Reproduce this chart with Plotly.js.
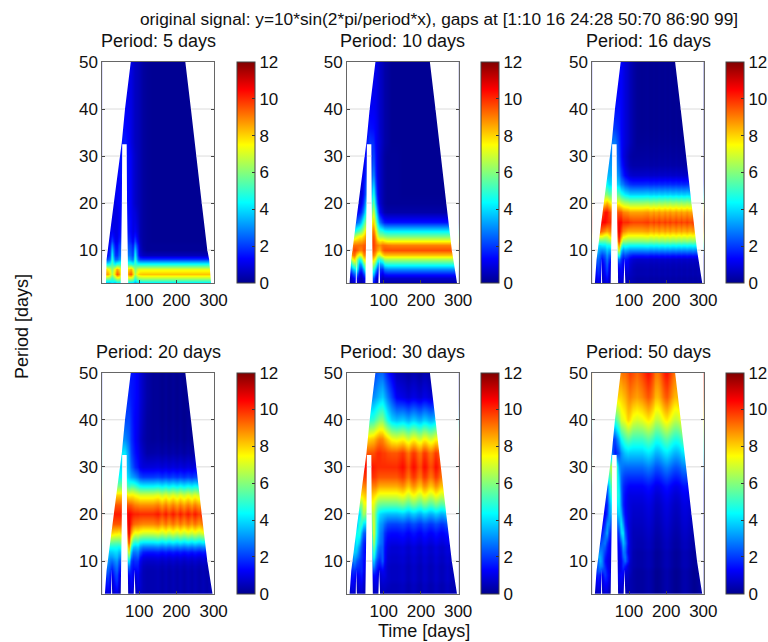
<!DOCTYPE html>
<html><head><meta charset="utf-8">
<script src="https://cdn.plot.ly/plotly-3.0.1.min.js"></script>
<style>html,body{margin:0;padding:0;background:#fff}</style>
</head><body><div id="chart" style="width:768px;height:642px"></div>
<script>
const _ = null;
// Period rows of every panel (days)
const periods = [3,4,5,6,7,8,9,10,11,12,13,14,16,18,20,22,24,26,28,30,33,36,40,45,50];
// Time columns: early table columns, then steady columns
const earlyTimes = [5,11,16,21,26,33,39,45,50,62,71,77,82,88,95,102,110,120,135];
const steadyTimes = [150,155,160,165,170,175,180,185,190,195,200,205,210,215,220,225,230,235,240,245,250,255,260,265,270,275,280,285,290,295,300];

const panelTitles = ['Period: 5 days','Period: 10 days','Period: 16 days','Period: 20 days','Period: 30 days','Period: 50 days'];
const superTitle = 'original signal: y=10*sin(2*pi/period*x), gaps at [1:10 16 24:28 50:70 86:90 99]';
const xTicks = [100,200,300];
const yTicks = [10,20,30,40,50];
const barTicks = [0,2,4,6,8,10,12];

// Rows are right-aligned on earlyTimes; shorter rows start inside the white wedge.
const early5 = [
[3.4,3.4,3.4,3.4,4.2,3.4,4,4,4,_,3.8,3.8,3.8,3.2,3.8,3.8,4,4,4],
[6.2,6.2,6.2,6,5,6.2,7,7,6.2,_,7,7,6.6,5,6.2,6.5,6.6,6.6,6.6],
[8.6,8.6,8.6,7.8,6.4,8,9.5,9,7.4,_,9,9.5,8.2,6.4,7.8,8.1,8.2,8.2,8.2],
[8,8,7.5,7.2,6,7.5,8.5,8,7.2,_,8,8.5,7.5,6,7,7.2,7.2,7.2,7.2],
[4.4,4.4,4.4,4.6,5.4,4.4,5,5,5,_,5,5,4.6,5.2,4.6,4.6,4.6,4.6,4.6],
[2,2,2.2,2.6,5,2.6,2.5,3,3.5,_,3.5,3,2.6,5,2.6,2,1.9,1.9,1.9],
[1,1,1.5,2,4.5,2,1.8,2.5,2.8,_,2.8,2.5,2,4.5,2,.9,.6,.5,.5],
[1.2,1.8,3.8,1.8,1.5,2.2,2.5,_,2.5,2.2,1.8,3.8,1.8,.7,.3,.1,.1],
[1,1.5,3,1.5,1.3,2,2.2,_,2.2,2,1.5,3,1.5,.6,.2,.1,.1],
[1.2,2.2,1.2,1.1,1.6,1.9,_,1.9,1.6,1.2,2.2,1.1,.5,.2,.1,.05],
[1,1.6,1.1,1,1.4,1.6,_,1.7,1.4,1.1,1.6,.9,.4,.2,.1,.05],
[1,1.2,1,1,1.3,1.5,_,1.5,1.3,1,1.2,.8,.4,.2,.1,.05],
[1,1,1,1.2,1.4,_,1.5,1.3,1,1,.7,.4,.2,.1,.05],
[1,1,1,1.2,1.4,_,1.4,1.2,1,.9,.6,.4,.2,.1,.05],
[1,1.2,1.3,1.4,_,1.4,1.2,.9,.7,.5,.4,.2,.1,.05],
[1.2,1.3,1.4,_,1.4,1.2,.9,.7,.5,.4,.2,.1,.05],
[1.2,1.3,1.4,_,1.4,1.2,.9,.7,.5,.4,.2,.1,.05],
[1.2,1.4,1.5,_,1.4,1.2,.9,.7,.5,.4,.2,.1,.05],
[1.4,1.5,_,1.4,1.2,.9,.7,.5,.4,.2,.1,.05],
[1.4,1.5,_,1.4,1.2,.9,.7,.5,.4,.2,.1,.05],
[1.5,1.6,1.3,1,.8,.6,.5,.4,.2,.1,.05],
[1.4,1.4,1.2,1,.8,.6,.5,.4,.2,.1,.05],
[1.3,1.1,1,.8,.6,.5,.4,.2,.1,.05],
[1.1,1.1,1,.8,.6,.5,.4,.2,.1,.05],
[1.1,1.1,1,.8,.6,.5,.4,.2,.1,.05]
];
const steady5 = [4,6.6,8.2,7.2,4.6,1.9,.5,.1,.1,.05,.05,.05,.05,.05,.05,.05,.05,.05,.05,.05,.05,.05,.05,.05,.05];
const ripple5 = [];

const early10 = [
[.3,.4,.6,.8,.8,.4,.4,.6,.8,_,1.5,.6,.4,.6,.3,.3,.3,.3,.3],
[.5,.6,1,1.5,1.5,.6,.5,1,1.5,_,2.5,1,.7,1,.5,.7,.7,.7,.7],
[1,1.2,2,2.5,3,1,1,2,3,_,3.8,2,1.2,1.5,1,1.5,1.6,1.6,1.6],
[2,2.5,3.5,4,5,2,2,3.5,5,_,5,3.5,2,2,1.8,2.8,3,3,3],
[3.5,4,5.5,6,6,3,3.5,5.5,6.5,_,6.5,5.2,3.5,3.2,3.5,4.6,4.8,4.8,4.8],
[6,7.5,8,6.5,4.5,5.5,7.5,8,_,8,7,5.2,4.8,5.5,6.4,6.5,6.5,6.5],
[8,9,9.2,8,7,7.5,8.8,9,_,9,8.3,7,6.8,7.8,8.2,8.2,8.2,8.2],
[9,9.5,9.8,9.5,9,9,9.6,9.6,_,9.6,9.2,8.6,8.3,9.3,9.6,9.6,9.6,9.6],
[9,9.2,9.2,9.2,9.2,9.4,9.5,_,9.8,9.3,9,8.8,9.2,9.2,9.1,9,9],
[8,8.3,8.3,8.5,8.5,8.8,9,_,9.8,9,8.2,7.8,8,7.7,7.5,7.5,7.5],
[6,6.5,7,7.5,7.5,8,8.5,_,9.6,8.5,7,6.3,6.2,6,5.8,5.8,5.8],
[4.5,5,5.5,6,6.8,7.8,_,9.2,7.8,6,5,4.8,4.4,4.3,4.3,4.3],
[2,2.5,3,3.8,5,6,_,8.2,6.2,4.2,2.8,2,1.6,1.5,1.5,1.5],
[1.2,1.5,2,3,4.5,_,7,4.8,2.8,1.3,.7,.4,.3,.3,.3],
[.8,1.2,2,3.5,_,5.8,3.6,1.8,.8,.4,.2,.1,.1,.1],
[.8,1.5,2.5,_,4.8,2.8,1.3,.7,.4,.2,.1,.1,.1],
[.8,1.4,2.2,_,3.8,2.2,1.1,.7,.4,.2,.1,.1,.1],
[1.2,1.8,_,3,1.8,1,.7,.4,.2,.1,.1,.1],
[1,1.6,_,2.5,1.6,1,.7,.4,.2,.1,.1,.1],
[1.4,_,2.2,1.5,1,.7,.4,.2,.1,.1,.1],
[1.4,2,1.8,1.3,1,.8,.5,.3,.2,.05,.05],
[1.2,1.5,1.4,1.2,1,.7,.5,.3,.2,.05,.05],
[1.2,1.2,1.1,.9,.7,.5,.3,.2,.05,.05],
[1.1,1.1,1.1,.9,.7,.5,.3,.2,.05,.05],
[1.1,1.1,1.1,.9,.7,.5,.3,.2,.05,.05]
];
const steady10 = [.3,.7,1.6,3,4.8,6.5,8.2,9.6,9,7.5,5.8,4.3,1.5,.3,.1,.05,.05,.05,.05,.05,.05,.05,.05,.05,.05];
const ripple10 = [];

const early16 = [
[.5,.8,1,.9,.5,.8,1,.6,.4,_,.5,.8,.6,.4,.5,.5,.4,.3,.3],
[.7,1,1.4,1.2,.6,1,1.4,.8,.5,_,.7,1,.8,.5,.6,.5,.4,.3,.3],
[1,1.3,1.7,1.5,.7,1.3,1.8,1,.6,_,.9,1.2,1,.7,.8,.6,.5,.4,.4],
[1.2,1.6,2,1.7,.9,1.5,2.2,1.2,.8,_,1.2,1.4,1.1,.9,1,.7,.5,.4,.4],
[1.9,2.3,1.9,1,1.7,2.5,1.5,1,_,1.8,1.6,1.2,1.2,1.2,.8,.6,.5,.5],
[2.2,2.6,2.2,1.4,2,2.8,2,1.6,_,3,2,1.4,1.6,1.4,1,.8,.7,.7],
[3,2.5,2,2.4,3.2,2.5,2.5,_,5,2.8,2,2.3,2,1.8,1.6,1.6,1.6],
[3.6,3.2,3,3.2,3.8,3.4,3.6,_,7.5,4,3,3.4,3.2,3,3,3,3],
[4,4,4.2,4.2,4.6,4.5,5,_,9,6,4.5,4.8,4.6,4.5,4.5,4.5,4.5],
[5.5,5.5,5.5,5.8,6,6.5,_,10,7.8,6.2,6.2,6,6,6,6,6],
[7.5,7.5,7,7,7.5,8,_,10.5,9,7.8,7.6,7.3,7.3,7.3,7.3,7.3],
[9.5,9.2,8.8,8.5,8.8,9,_,10.8,9.8,9,8.8,8.5,8.5,8.5,8.5,8.5],
[10.5,10.5,10.2,10,10,_,10.5,10.5,10,10,10,9.8,9.7,9.7,9.7],
[9.5,10.3,10.3,9.8,9.5,_,9.5,9.5,9,8.9,8.8,8.6,8.6,8.6,8.6],
[8,8.5,8,7.5,_,7.5,7,6.8,6.6,6.5,6.3,6.3,6.3,6.3],
[6,5.5,5.5,_,5.5,4.8,4.5,4.2,4,3.8,3.8,3.8,3.8],
[4.5,4,4,_,3.8,3,2.8,2.4,2.1,1.9,1.8,1.8,1.8],
[3.5,3.5,3.5,_,3,2.2,1.7,1.3,1,.8,.7,.7,.7],
[3.2,3.2,_,2.5,1.7,1.3,.9,.6,.4,.3,.3,.3],
[3,3,_,2.2,1.5,1,.8,.5,.3,.2,.2,.2],
[2.8,2.8,2,1.4,1.1,.9,.7,.5,.3,.1,.1],
[2,2,1.7,1.3,1.1,.9,.7,.5,.3,.1,.05],
[1.5,1.5,1.3,1.1,.9,.7,.5,.3,.1,.05],
[1.3,1.3,1.3,1.1,.9,.7,.5,.3,.1,.05],
[1.3,1.3,1.3,1.1,.9,.7,.5,.3,.1,.05]
];
const steady16 = [.3,.3,.4,.4,.5,.7,1.6,3,4.5,6,7.3,8.5,9.7,8.6,6.3,3.8,1.8,.7,.3,.2,.1,.05,.05,.05,.05];
const ripple16 = [.012,-.006,-.006,.012,-.006,-.006,.012,-.006,-.006,.012,-.006,-.006,.012,-.006,-.006,.012,-.006,-.006,.012,-.006,-.006,.012,-.006,-.006,.012,-.006,-.006,.012,-.006,-.006,.012];

const early20 = [
[.6,.8,1,.7,.5,.8,.9,.5,.4,_,.4,.7,.6,.3,.6,.6,.4,.4,.4],
[.8,1.1,1.3,1,.6,1.1,1.3,.7,.5,_,.6,1,.8,.4,.8,.7,.5,.4,.4],
[1,1.4,1.6,1.2,.7,1.4,1.7,.9,.6,_,.8,1.2,1,.6,1,.8,.5,.4,.4],
[1.2,1.6,1.9,1.4,.8,1.7,2,1.1,.8,_,1,1.4,1.1,.7,1.1,.8,.5,.4,.4],
[1.9,2.2,1.6,1.1,2,2.2,1.3,1,_,1.4,1.5,1.2,.9,1.2,.8,.5,.4,.4],
[2.2,2.5,2,1.5,2.2,2.5,1.6,1.3,_,2,1.6,1.3,1.2,1.4,.9,.5,.4,.4],
[2.8,2.4,2,2.6,2.8,2,1.7,_,3,1.8,1.5,1.6,1.6,1,.6,.5,.5],
[3.2,2.8,2.6,3,3.2,2.4,2.3,_,4.5,2.2,1.7,1.9,1.9,1.2,.8,.7,.7],
[3.6,3.2,3.2,3.5,3.6,3,3,_,6,3,2.2,2.2,2.4,1.6,1.1,1,1],
[3.8,3.8,4,4,3.6,3.8,_,7.5,4,2.8,2.8,3,2.3,1.7,1.6,1.6],
[4.6,4.6,4.6,4.6,4.4,4.8,_,8.8,5.2,3.8,3.6,3.8,3.2,2.8,2.8,2.8],
[5.5,5.5,5.4,5.4,5.4,5.8,_,9.8,6.5,5,4.6,4.8,4.2,4,4,4],
[8,7.8,7.8,7.6,8,_,10.8,8.8,7.8,7.3,7.4,7.2,7,7,7],
[9.5,9.5,9.5,9.5,9.5,_,10.8,10,9.4,9.2,9.1,9,8.9,8.9,8.9],
[10.2,10.2,10.2,10.2,_,10.6,10.4,10.2,10.1,10.1,10,10,10,10],
[9.5,9.5,9.5,_,9.5,9.4,9.2,9,8.9,8.8,8.8,8.8,8.8],
[8,8,8,_,7.5,7.6,7.6,7.4,7.2,7,7,7,7],
[5.8,5.8,5.8,_,5,5.3,5.3,5.1,4.7,4.4,4.3,4.3,4.3],
[4.5,4.5,_,3.8,3.4,3.2,3,2.6,2.2,2,2,2],
[4,4,_,3.3,2.6,2.2,1.8,1.5,1.1,.9,.9,.9],
[4.2,4.2,3,2.2,1.8,1.5,1.2,.9,.6,.3,.3],
[3,3,2.5,1.9,1.6,1.3,1,.7,.4,.2,.1],
[2.2,2.2,1.8,1.5,1.3,1.1,.8,.5,.2,.1],
[1.8,1.8,1.6,1.5,1.4,1.2,.9,.6,.3,.1],
[1.6,1.6,1.5,1.5,1.4,1.2,.9,.6,.3,.1]
];
const steady20 = [.4,.4,.4,.4,.4,.4,.5,.7,1,1.6,2.8,4,7,8.9,10,8.8,7,4.3,2,.9,.3,.1,.05,.05,.05];
const ripple20 = [.02,0,-.02,0,.02,0,-.02,0,.02,0,-.02,0,.02,0,-.02,0,.02,0,-.02,0,.02,0,-.02,0,.02,0,-.02,0,.02,0,-.02];

const early30 = [
[.5,.6,.7,.6,.4,.6,.7,.5,.4,_,.5,.6,.6,.5,.5,.5,.5,.5,.5],
[.6,.8,1,.8,.5,.8,.9,.6,.5,_,.6,.8,.7,.5,.6,.6,.5,.5,.5],
[.8,1,1.2,1,.7,1,1.1,.7,.6,_,.8,1,.9,.6,.7,.7,.6,.5,.5],
[1.1,1.2,1.4,1.2,.9,1.2,1.4,.9,.7,_,1.1,1.2,1,.7,.9,.8,.7,.6,.6],
[1.4,1.6,1.5,1.2,1.4,1.6,1,.8,_,1.5,1.4,1.1,.8,1,1,.7,.6,.6],
[1.6,1.8,1.8,1.6,1.6,1.8,1.2,1,_,2.2,1.7,1.3,1,1.2,1,.7,.6,.6],
[2.2,2.4,2,1.8,1.8,1.3,1.1,_,3.2,2.2,1.6,1.4,1.8,1.1,.7,.6,.6],
[2.6,3,2.4,2,1.8,1.4,1.2,_,4,2.7,2,1.7,2.4,1.3,.8,.7,.7],
[3,3.4,3,2.3,1.9,1.5,1.3,_,4.8,3.3,2.4,2,2.4,1.4,.8,.7,.7],
[3.8,3.6,2.6,2,1.5,1.3,_,5.4,3.8,2.7,2.3,2.4,1.4,.9,.8,.8],
[3.8,4,3,2.2,1.6,1.4,_,6,4.3,3,2.5,2.4,1.5,1,.8,.8],
[3.6,4.4,3.6,2.4,1.7,1.5,_,6.6,4.6,3.4,2.8,2.5,1.6,1.1,1,1],
[4.5,4.8,3.4,2.4,2.4,_,7.3,5.2,3.8,3,2.6,1.9,1.5,1.4,1.4],
[3.5,5,5,4,4,_,7.2,5.4,4,3.3,3,2.6,2.2,2.1,2.1],
[4,5.6,6.5,6,_,6.8,5.6,4.5,4,3.8,3.7,3.6,3.6,3.6],
[6,7.2,7.3,_,7.2,6.4,5.8,5.6,5.5,5.5,5.5,5.5,5.5],
[7.8,8,8.2,_,8,7.8,7.4,7.2,7.2,7.2,7.2,7.2,7.2],
[8.8,8.9,9,_,9,9,8.7,8.5,8.5,8.5,8.5,8.5,8.5],
[9.8,9.9,_,9.9,9.8,9.6,9.5,9.5,9.5,9.5,9.5,9.5],
[10.4,10.4,_,10.2,10.1,10,10,10,10,10,10,10],
[9.5,9.5,9.6,9.8,10,10,9.8,9.8,9.6,9.5,9.5],
[8,8,8.2,8.5,8.8,9,8.9,8.5,8,7.4,7.2],
[4.8,4.8,5,5.4,5.7,6,6,5.4,4.6,3.9,3.6],
[3,3,3.2,3.4,3.6,3.8,3.4,2.8,2.1,1.2],
[2,2,2.2,2.4,2.5,2.5,2.1,1.6,1.1,.5]
];
const steady30 = [.5,.5,.5,.6,.6,.6,.6,.7,.7,.8,.8,1,1.4,2.1,3.6,5.5,7.2,8.5,9.5,10,9.5,7.2,3.6,.9,.3];
const ripple30 = [.03,.015,-.015,-.03,-.015,.015,.03,.015,-.015,-.03,-.015,.015,.03,.015,-.015,-.03,-.015,.015,.03,.015,-.015,-.03,-.015,.015,.03,.015,-.015,-.03,-.015,.015,.03];

const early50 = [
[.4,.5,.7,.6,.4,.8,.8,.4,.3,_,.4,.6,.5,.3,.3,.3,.3,.2,.2],
[.5,.7,.9,.8,.6,1,1,.6,.4,_,.6,.8,.7,.4,.4,.4,.3,.2,.2],
[.7,.9,1.2,1,.8,1.3,1.2,.8,.6,_,.8,1,.8,.5,.5,.4,.3,.2,.2],
[1,1.2,1.5,1.2,1,1.6,1.5,1,.8,_,1,1.2,1,.6,.6,.4,.3,.2,.2],
[1.4,1.8,1.5,1.2,2,1.6,1.2,.9,_,1.2,1.4,1.2,.8,.7,.5,.3,.2,.2],
[1.8,2.2,2.4,2,2,1.5,1.1,.9,_,1,1.2,1.5,1,.8,.6,.3,.2,.2],
[2.4,3,2.8,1.8,1.3,1,.9,_,1,1.2,1.9,1.6,.9,.6,.4,.3,.3],
[2.5,3.5,3,1.5,1.2,1,.9,_,1,1.2,2,2.6,1.6,.7,.4,.3,.3],
[3.4,2.9,1.7,1.3,1.1,1,_,1.1,1.4,2.4,2.8,1.5,.8,.4,.3,.3],
[3,2.8,2,1.5,1.2,1.2,_,1.2,1.5,2.8,2.6,1.2,.8,.4,.3,.3],
[2.5,2.6,2.4,1.7,1.3,1.2,_,1.3,1.8,3.2,2.8,1.3,.8,.5,.4,.4],
[2,2.4,2.8,2,1.4,1.2,_,1.4,2.2,3.6,3,1.4,.8,.5,.4,.4],
[1.6,2.5,3.4,2,1.5,_,2,3.8,4.2,2.4,1.2,.8,.5,.5,.5],
[1.2,1.8,3,3,2.2,_,3,4.2,3.2,1.8,1,.8,.6,.6,.6],
[1.2,1.8,3,3.4,_,4,3.6,2.2,1.4,1,.9,.7,.7,.7],
[1.6,3,4,_,4.4,3,1.8,1.3,1,.9,.8,.8,.8],
[2,3.5,4.8,_,4.6,2.8,1.8,1.4,1.1,1,1,1,1],
[2.4,4,5.4,_,4.2,2.6,1.9,1.6,1.4,1.3,1.3,1.3,1.3],
[5,6,_,3.8,2.6,2.2,2,1.9,1.9,1.9,1.9,1.9],
[6,6.6,_,3.2,2.8,2.7,2.6,2.6,2.6,2.6,2.6,2.6],
[3,1.5,2.2,3,3.4,3.7,3.9,3.8,3.8,3.8,3.8],
[2,2.2,3.5,4.4,4.8,5.2,5.5,5.4,5.1,5.1,5.1],
[5,6,7,7.2,7.4,8,7.8,7.2,7,7.2],
[7.8,8,8,8.2,8.4,8.8,9,8.8,8.6,8.9],
[8.8,9,9,9.2,9.2,9.5,9.8,9.6,9.3,9.7]
];
const steady50 = [.2,.2,.2,.2,.2,.2,.3,.3,.3,.3,.4,.4,.5,.6,.7,.8,1,1.3,1.9,2.6,3.8,5.1,7.2,8.9,9.7];
const ripple50 = [.05,.04,.015,-.015,-.04,-.05,-.04,-.015,.015,.04,.05,.04,.015,-.015,-.04,-.05,-.04,-.015,.015,.04,.05,.04,.015,-.015,-.04,-.05,-.04,-.015,.015,.04,.05];

// White regions with no data (cone of influence and data gaps)
const coiPeriods = [3,8,10,20,33,40,50];
const coiLeft = [8,12.5,16,32,53.5,62,77.5];
const coiRight = [297,287,283,268,250,239,224];
const coiLeft5 = [11,12.5,16,32,53.5,62,77.5];
const coiRight5 = [293,288,283,268,250,239,224];
const gapPeriods = [3,10,20,32.5];
const gapLeft = [50.5,52,53.5,54.5];
const gapRight = [70.5,68.5,67.5,66.5];
const slit1T = [24.5,25.8,27.5];
const slit2T = [85.5,87.5,90];
const slitP = [3,8.3,3];
const gridP = [10,20,30,40];
const gridLeftEnd = [16,32,48.5,62];
const gridRightStart = [283,268,254,239];
const gridGapP = [10,20,30];
const gridGapLeft = [52,53.5,54.5];
const gridGapRight = [68.5,67.5,66.5];

const panels = [
  {early:early5,steady:steady5,ripple:ripple5,l:coiLeft5,r:coiRight5,slits:false},
  {early:early10,steady:steady10,ripple:ripple10,l:coiLeft,r:coiRight,slits:true},
  {early:early16,steady:steady16,ripple:ripple16,l:coiLeft,r:coiRight,slits:true},
  {early:early20,steady:steady20,ripple:ripple20,l:coiLeft,r:coiRight,slits:true},
  {early:early30,steady:steady30,ripple:ripple30,l:coiLeft,r:coiRight,slits:true},
  {early:early50,steady:steady50,ripple:ripple50,l:coiLeft,r:coiRight,slits:true}
];

const W=768,H=642;
const colX=[[102.3,214],[347,458.5],[592.3,703.7]];
const rowY=[[62,283],[372.7,594]];
const barX=[236.5,481,726];
const jet=[[0,'#00008f'],[0.11,'#0000ff'],[0.365,'#00ffff'],[0.625,'#ffff00'],[0.875,'#ff0000'],[1,'#800000']];
const FONT='"Liberation Sans", Arial, sans-serif';

function buildZ(p){
  return periods.map((per,i)=>{
    let row=p.early[i].slice();
    while(row.length<earlyTimes.length) row.unshift(row[0]);
    for(let k=0;k<row.length;k++) if(row[k]===null) row[k]=row[k-1];
    const tail=steadyTimes.map((t,k)=>{
      const r=p.ripple.length?p.ripple[k]:0;
      return Math.max(0,p.steady[i]*(1+r)+3*r);
    });
    return row.concat(tail);
  });
}
function maskXY(p){
  const xs=[],ys=[];
  const add=(a,b)=>{xs.push(...a,null);ys.push(...b,null);};
  add([1,...p.l,1],[3,...coiPeriods,50]);
  add([301,...p.r,301],[3,...coiPeriods,50]);
  add([...gapLeft,...gapRight.slice().reverse()],[...gapPeriods,...gapPeriods.slice().reverse()]);
  if(p.slits){add(slit1T,slitP);add(slit2T,slitP);}
  return {xs,ys};
}
function gridXY(){
  const xs=[],ys=[];
  gridP.forEach((g,i)=>{xs.push(1,gridLeftEnd[i],null,gridRightStart[i],301,null);ys.push(g,g,null,g,g,null);});
  gridGapP.forEach((g,i)=>{xs.push(gridGapLeft[i],gridGapRight[i],null);ys.push(g,g,null);});
  return {xs,ys};
}

const traces=[],annotations=[];
const layout={width:W,height:H,autosize:false,margin:{l:0,r:0,t:0,b:0,pad:0,autoexpand:false},
  paper_bgcolor:'#fff',plot_bgcolor:'#fff',showlegend:false,font:{family:FONT,size:17,color:'#111'}};

panels.forEach((p,i)=>{
  const c=i%3,r=Math.floor(i/3),n=i+1,sx=n===1?'':n;
  const xa='x'+sx,ya='y'+sx;
  layout['xaxis'+sx]={domain:[colX[c][0]/W,colX[c][1]/W],range:[1,301],anchor:ya,tickvals:xTicks,ticks:'inside',ticklen:3,tickcolor:'#444',
    showgrid:false,zeroline:false,showline:true,linecolor:'#666',linewidth:1,mirror:true,ticklabelstandoff:2,tickfont:{family:FONT,size:17,color:'#111'}};
  layout['yaxis'+sx]={domain:[1-rowY[r][1]/H,1-rowY[r][0]/H],range:[3,50],anchor:xa,tickvals:yTicks,ticks:'inside',ticklen:3,tickcolor:'#444',
    showgrid:false,zeroline:false,showline:true,linecolor:'#666',linewidth:1,mirror:'ticks',tickfont:{family:FONT,size:17,color:'#111'}};
  traces.push({type:'heatmap',x:earlyTimes.concat(steadyTimes),y:periods,z:buildZ(p),xaxis:xa,yaxis:ya,zsmooth:'best',zmin:0,zmax:12,colorscale:jet,hoverinfo:'skip',
    colorbar:{x:barX[c]/W,xanchor:'left',xpad:0,ypad:0,y:1-rowY[r][0]/H,yanchor:'top',len:(rowY[r][1]-rowY[r][0])/H,lenmode:'fraction',thickness:17.5,thicknessmode:'pixels',
      tickvals:barTicks,ticks:'inside',ticklen:3,tickcolor:'#333',outlinecolor:'#444',outlinewidth:1,tickfont:{family:FONT,size:17,color:'#111'}}});
  const m=maskXY(p);
  traces.push({type:'scatter',mode:'lines',x:m.xs,y:m.ys,xaxis:xa,yaxis:ya,fill:'toself',fillcolor:'#fff',line:{width:0,color:'#fff'},hoverinfo:'skip'});
  const g=gridXY();
  traces.push({type:'scatter',mode:'lines',x:g.xs,y:g.ys,xaxis:xa,yaxis:ya,line:{width:1,color:'#dcdcdc'},hoverinfo:'skip'});
  annotations.push({text:panelTitles[i],xref:'paper',yref:'paper',x:((colX[c][0]+colX[c][1])/2)/W,y:1-(rowY[r][0]-21)/H,xanchor:'center',yanchor:'middle',showarrow:false,font:{family:FONT,size:18,color:'#111'}});
});
annotations.push({text:superTitle,xref:'paper',yref:'paper',x:439/W,y:1-19/H,xanchor:'center',yanchor:'middle',showarrow:false,font:{family:FONT,size:17.3,color:'#111'}});
annotations.push({text:'Time [days]',xref:'paper',yref:'paper',x:424/W,y:1-631/H,xanchor:'center',yanchor:'middle',showarrow:false,font:{family:FONT,size:18,color:'#111'}});
annotations.push({text:'Period [days]',xref:'paper',yref:'paper',x:22/W,y:1-327/H,xanchor:'center',yanchor:'middle',textangle:-90,showarrow:false,font:{family:FONT,size:18,color:'#111'}});
layout.annotations=annotations;
Plotly.newPlot('chart',traces,layout,{displayModeBar:false,staticPlot:true});
</script></body></html>
